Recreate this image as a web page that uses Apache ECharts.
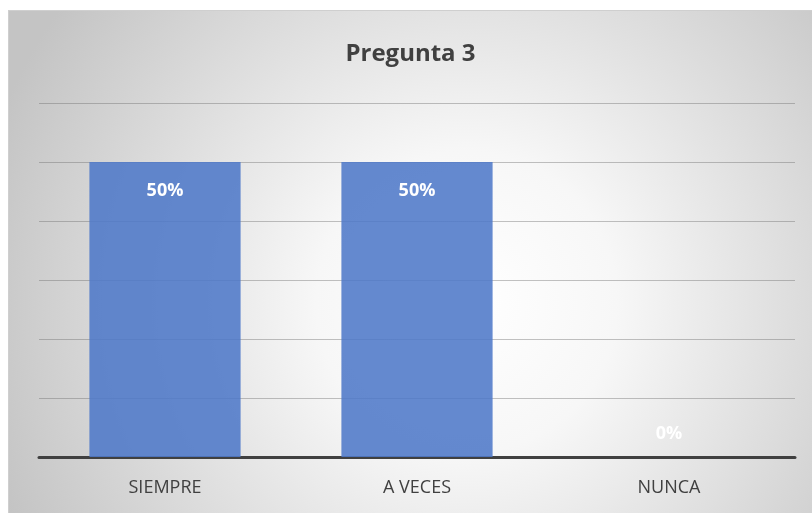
<!DOCTYPE html>
<html><head><meta charset="utf-8">
<script src="https://cdn.jsdelivr.net/npm/echarts@6/dist/echarts.min.js"></script>
<style>
html,body{margin:0;padding:0;background:#fff;width:812px;height:513px;overflow:hidden;}
#c{position:absolute;left:8px;top:10px;width:803px;height:502px;border:1px solid #cfcfcf;border-right:none;border-bottom:none;}
</style></head>
<body><div id="c"></div>
<script>
const categories = ['SIEMPRE', 'A VECES', 'NUNCA'];
const values = [50, 50, 0];
const titleText = 'Pregunta 3';

const chart = echarts.init(document.getElementById('c'));
const font = '"Open Sans", "Liberation Sans", sans-serif';
chart.setOption({
  backgroundColor: {
    type: 'radial', x: 0.57, y: 0.58, r: 1.0,
    colorStops: [
      {offset: 0, color: '#ffffff'},
      {offset: 0.3, color: '#f7f7f7'},
      {offset: 1, color: '#c4c4c4'}
    ]
  },
  title: {
    text: titleText, left: 'center', top: 26,
    textStyle: {fontFamily: font, fontSize: 24, fontWeight: 'bold', color: '#404040'}
  },
  grid: {left: 30, right: 17, top: 92, bottom: 56},
  xAxis: {
    type: 'category', data: categories,
    axisLine: {lineStyle: {color: '#404040', width: 3}},
    axisTick: {show: false},
    axisLabel: {fontFamily: font, fontSize: 18, color: '#404040', margin: 22}
  },
  yAxis: {
    type: 'value', min: 0, max: 60, interval: 10,
    axisLabel: {show: false}, axisLine: {show: false}, axisTick: {show: false},
    splitLine: {lineStyle: {color: 'rgba(110,110,110,0.42)', width: 1}}
  },
  series: [{
    type: 'bar', barWidth: '60%',
    itemStyle: {color: 'rgba(78,121,200,0.88)'},
    data: values.map(v => ({
      value: v,
      label: {
        show: true,
        position: v === 0 ? 'top' : 'insideTop',
        distance: v === 0 ? 14 : 20,
        formatter: '{c}%',
        fontFamily: font, fontSize: 18, fontWeight: 'bold', color: '#ffffff'
      }
    }))
  }]
});
</script></body></html>
